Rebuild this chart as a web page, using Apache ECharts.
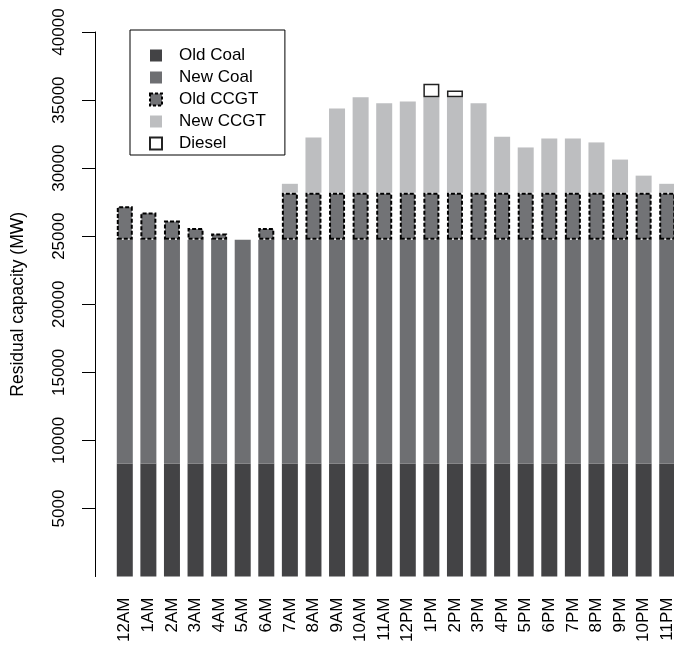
<!DOCTYPE html>
<html>
<head>
<meta charset="utf-8">
<script src="https://cdn.jsdelivr.net/npm/echarts@6/dist/echarts.min.js"></script>
<style>
  html, body { margin: 0; padding: 0; background: #fff; overflow: hidden; }
  #chart { width: 690px; height: 645px; }
</style>
</head>
<body>
<div id="chart"></div>
<script>
// Hours of the day
const hours = ['12AM','1AM','2AM','3AM','4AM','5AM','6AM','7AM','8AM','9AM','10AM','11AM',
               '12PM','1PM','2PM','3PM','4PM','5PM','6PM','7PM','8PM','9PM','10PM','11PM'];

// Residual capacity by plant type (MW), stacked
const oldCoal = [8300,8300,8300,8300,8300,8300,8300,8300,8300,8300,8300,8300,
                 8300,8300,8300,8300,8300,8300,8300,8300,8300,8300,8300,8300];
const newCoal = [16450,16450,16450,16450,16450,16450,16450,16450,16450,16450,16450,16450,
                 16450,16450,16450,16450,16450,16450,16450,16450,16450,16450,16450,16450];
const oldCCGT = [2450,2000,1400,850,450,0,850,3450,3450,3450,3450,3450,
                 3450,3450,3450,3450,3450,3450,3450,3450,3450,3450,3450,3450];
const newCCGT = [0,0,0,0,0,0,0,650,4050,6190,7000,6560,
                 6700,7000,7000,6560,4100,3320,3980,3980,3690,2430,1250,650];
const diesel  = [0,0,0,0,0,0,0,0,0,0,0,0,
                 0,1000,500,0,0,0,0,0,0,0,0,0];

// Y axis ticks
const yTicks = [0,5000,10000,15000,20000,25000,30000,35000,40000];

const font = 'Liberation Sans, Arial, Helvetica, sans-serif';
const skipZero = arr => arr.map(v => (v === 0 ? '-' : v));

const chart = echarts.init(document.getElementById('chart'), null, { renderer: 'canvas' });

chart.setOption({
  animation: false,
  backgroundColor: '#ffffff',
  textStyle: { fontFamily: font },
  grid: { left: 113, top: 32, width: 566, height: 545 },
  legend: {
    orient: 'vertical',
    left: 130,
    top: 30,
    padding: [17, 19, 3, 19],
    itemGap: 5,
    itemWidth: 12,
    itemHeight: 12,
    borderColor: '#000',
    borderWidth: 1,
    textStyle: { fontSize: 17, color: '#000', fontFamily: font, padding: [0, 0, 0, 12] },
    data: [
      { name: 'Old Coal', icon: 'rect' },
      { name: 'New Coal', icon: 'rect' },
      { name: 'Old CCGT', icon: 'rect',
        itemStyle: { borderColor: '#000', borderWidth: 2, borderType: [3, 2] } },
      { name: 'New CCGT', icon: 'rect' },
      { name: 'Diesel', icon: 'rect' }
    ]
  },
  xAxis: {
    type: 'category',
    data: hours,
    axisLine: { show: false },
    axisTick: { show: false },
    axisLabel: {
      interval: 0,
      rotate: 90,
      margin: 21,
      fontSize: 17,
      color: '#000',
      fontFamily: font
    }
  },
  yAxis: {
    type: 'value',
    min: yTicks[0],
    max: yTicks[yTicks.length - 1],
    interval: yTicks[1] - yTicks[0],
    offset: 18,
    splitLine: { show: false },
    axisLine: { show: true, lineStyle: { color: '#000', width: 1 } },
    axisTick: { show: true, length: 13, lineStyle: { color: '#000', width: 1 } },
    axisLabel: {
      showMinLabel: false,
      rotate: 90,
      margin: 27,
      fontSize: 17,
      color: '#000',
      fontFamily: font,
      formatter: v => String(v)
    },
    name: 'Residual capacity (MW)',
    nameLocation: 'middle',
    nameRotate: 90,
    nameGap: 68,
    nameTextStyle: { fontSize: 17.5, color: '#000', fontFamily: font }
  },
  series: [
    {
      name: 'Old Coal', type: 'bar', stack: 'cap', barWidth: 16,
      itemStyle: { color: '#434345' },
      data: oldCoal
    },
    {
      name: 'New Coal', type: 'bar', stack: 'cap', barWidth: 16,
      itemStyle: { color: '#6e6f72' },
      data: newCoal
    },
    {
      name: 'Old CCGT', type: 'bar', stack: 'cap', barWidth: 16, z: 4,
      itemStyle: { color: '#727376', borderColor: '#000', borderWidth: 2, borderType: [4, 2] },
      data: skipZero(oldCCGT)
    },
    {
      name: 'New CCGT', type: 'bar', stack: 'cap', barWidth: 16,
      itemStyle: { color: '#bdbec0' },
      data: skipZero(newCCGT)
    },
    {
      name: 'Diesel', type: 'bar', stack: 'cap', barWidth: 16,
      itemStyle: { color: '#ffffff', borderColor: '#222', borderWidth: 1.5 },
      data: skipZero(diesel)
    }
  ]
});
</script>
</body>
</html>
